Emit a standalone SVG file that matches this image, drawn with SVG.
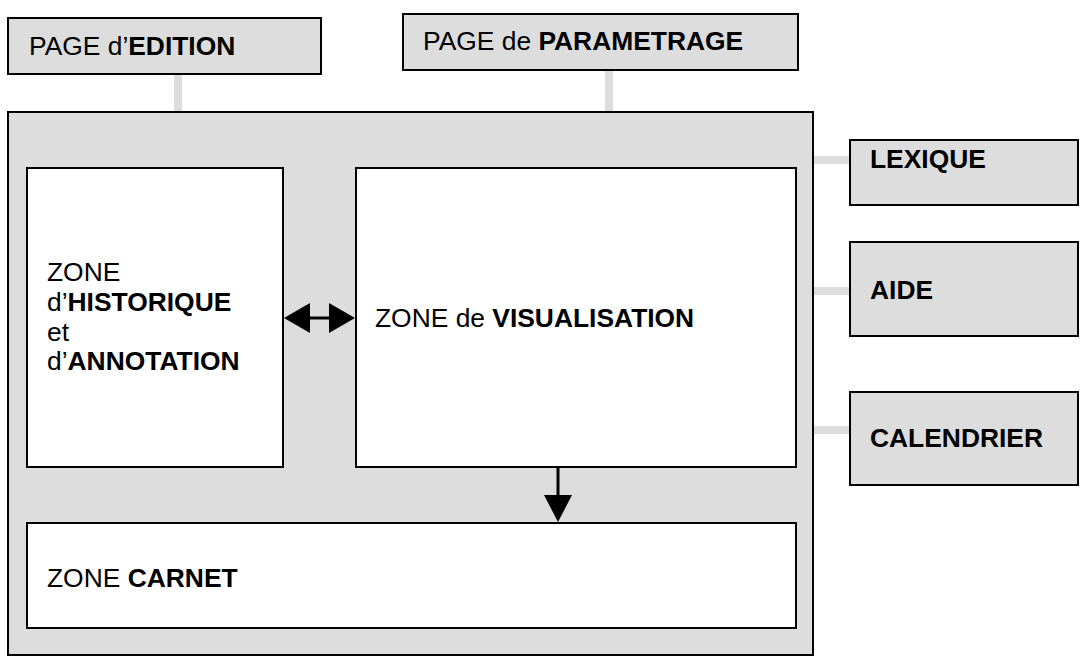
<svg xmlns="http://www.w3.org/2000/svg" width="1080" height="665" viewBox="0 0 1080 665">
<style>
.box{fill:#dddddd;stroke:#000;stroke-width:2}
.zone{fill:#fff;stroke:#000;stroke-width:2}
.t{font-family:"Liberation Sans",Arial,sans-serif;font-size:26.4px;fill:#000}
.b{font-weight:bold}
.link{stroke:#dddddd;stroke-width:8;fill:none}
.arr{stroke:#000;stroke-width:3;fill:none}
.head{fill:#000}
</style>
<rect width="1080" height="665" fill="#fff"/>
<g id="connectors">
<line class="link" x1="178" y1="74" x2="178" y2="112"/>
<line class="link" x1="609" y1="70" x2="609" y2="112"/>
<line class="link" x1="813" y1="160" x2="850" y2="160"/>
<line class="link" x1="813" y1="291" x2="850" y2="291"/>
<line class="link" x1="813" y1="430" x2="850" y2="430"/>
</g>
<g id="page-edition">
<rect class="box" x="8" y="18" width="313" height="56"/>
<text class="t" x="29" y="55">PAGE d’<tspan class="b">EDITION</tspan></text>
</g>
<g id="page-parametrage">
<rect class="box" x="403" y="14" width="395" height="56"/>
<text class="t" x="423" y="50">PAGE de <tspan class="b">PARAMETRAGE</tspan></text>
</g>
<g id="main">
<rect class="box" x="8" y="112" width="805" height="543"/>
</g>
<g id="lexique">
<rect class="box" x="850" y="140" width="228" height="65"/>
<text class="t b" x="870" y="168">LEXIQUE</text>
</g>
<g id="aide">
<rect class="box" x="850" y="242" width="228" height="94"/>
<text class="t b" x="870" y="299">AIDE</text>
</g>
<g id="calendrier">
<rect class="box" x="850" y="392" width="228" height="93"/>
<text class="t b" x="870" y="447">CALENDRIER</text>
</g>
<g id="zone-historique">
<rect class="zone" x="27" y="168" width="256" height="299"/>
<text class="t" x="47" y="281">ZONE</text>
<text class="t" x="47" y="311">d’<tspan class="b">HISTORIQUE</tspan></text>
<text class="t" x="47" y="341">et</text>
<text class="t" x="47" y="370">d’<tspan class="b">ANNOTATION</tspan></text>
</g>
<g id="zone-visualisation">
<rect class="zone" x="356" y="168" width="440" height="299"/>
<text class="t" x="375" y="327">ZONE de <tspan class="b">VISUALISATION</tspan></text>
</g>
<g id="zone-carnet">
<rect class="zone" x="27" y="523" width="769" height="105"/>
<text class="t" x="47" y="587">ZONE <tspan class="b">CARNET</tspan></text>
</g>
<g id="arrows">
<line class="arr" x1="308" y1="318" x2="330" y2="318"/>
<polygon class="head" points="284,318 310,303 310,333"/>
<polygon class="head" points="355,318 329,303 329,333"/>
<line class="arr" x1="558" y1="467" x2="558" y2="497"/>
<polygon class="head" points="558,522 544,495 572,495"/>
</g>
</svg>
